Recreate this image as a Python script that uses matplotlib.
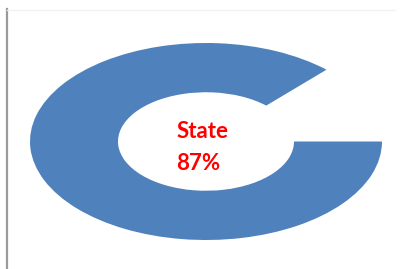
import matplotlib.pyplot as plt
from matplotlib.lines import Line2D

# 数据
labels = ['State', '']
values = [87, 13]
colors = ['#4F81BD', 'none']

fig = plt.figure(figsize=(4, 2.69), dpi=100)
fig.patch.set_facecolor('white')

# 左边灰线和上边浅线
fig.add_artist(Line2D([6.5 / 400, 6.5 / 400], [0, 1 - 9 / 269], color='#9a9a9a', lw=1.6))
fig.add_artist(Line2D([7 / 400, 395 / 400], [1 - 10 / 269, 1 - 10 / 269], color='#f2f2f2', lw=1))

ax = fig.add_axes([30 / 400, 29 / 269, 352 / 400, 197 / 269])
ax.pie(values, colors=colors, startangle=0, counterclock=False,
       wedgeprops=dict(width=0.5, edgecolor='none'))
ax.set_aspect('auto')
ax.set_xlim(-1, 1)
ax.set_ylim(-1, 1)
ax.axis('off')

ax.text(-0.17, 0.04, labels[0], color='#FF0000', fontsize=16, fontweight='bold',
        family=['Lato', 'DejaVu Sans'], ha='left', va='baseline')
ax.text(-0.17, -0.29, '%d%%' % values[0], color='#FF0000', fontsize=16, fontweight='bold',
        family=['Lato', 'DejaVu Sans'], ha='left', va='baseline')

fig.savefig('out.png', dpi=100)
